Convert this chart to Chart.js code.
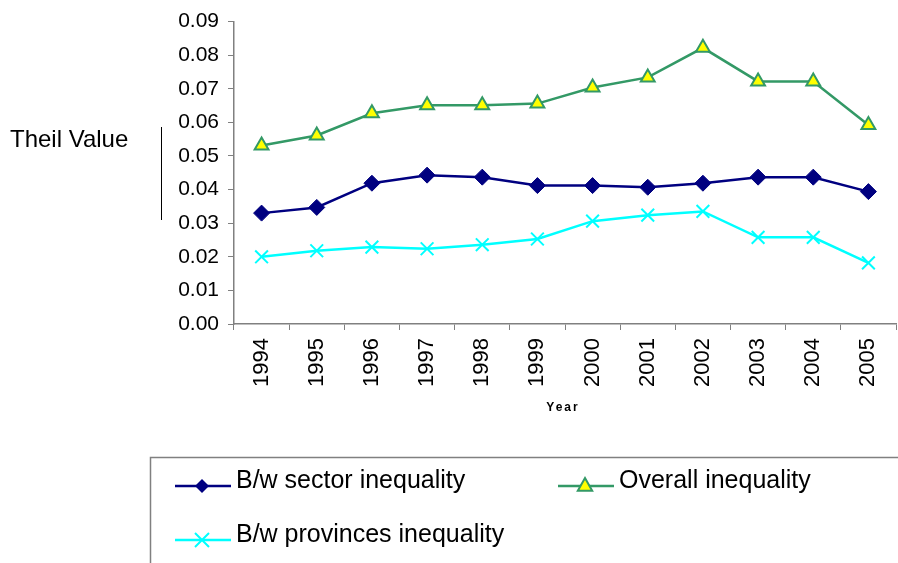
<!DOCTYPE html>
<html>
<head>
<meta charset="utf-8">
<script src="https://cdn.jsdelivr.net/npm/chart.js"></script>
<style>
  body { margin: 0; background: #fff; }
  canvas { display: block; }
</style>
</head>
<body>
<canvas id="myChart" width="898" height="563"></canvas>
<script>
// data block
const years = ['1994', '1995', '1996', '1997', '1998', '1999', '2000', '2001', '2002', '2003', '2004', '2005'];
const sectorInequality = [0.0330, 0.0347, 0.0419, 0.0443, 0.0437, 0.0412, 0.0412, 0.0407, 0.0419, 0.0437, 0.0437, 0.0394];
const overallInequality = [0.0531, 0.0561, 0.0627, 0.0651, 0.0651, 0.0656, 0.0704, 0.0734, 0.0822, 0.0722, 0.0722, 0.0592];
const provincesInequality = [0.0200, 0.0218, 0.0229, 0.0224, 0.0236, 0.0253, 0.0306, 0.0324, 0.0335, 0.0258, 0.0258, 0.0182];
const seriesNames = ['B/w sector inequality', 'Overall inequality', 'B/w provinces inequality'];

const FONT = '"Liberation Sans", Arial, sans-serif';
const NAVY = '#000080';
const GREEN = '#339966';
const CYAN = '#00FFFF';

// markers for the hand-drawn legend
const drawDiamond = (ctx, x, y, r, color) => {
    ctx.beginPath();
    ctx.moveTo(x, y - r);
    ctx.lineTo(x + r, y);
    ctx.lineTo(x, y + r);
    ctx.lineTo(x - r, y);
    ctx.closePath();
    ctx.fillStyle = color;
    ctx.fill();
};

const drawTriangle = (ctx, x, y, r) => {
    ctx.beginPath();
    ctx.moveTo(x, y - r);
    ctx.lineTo(x + r * 0.9, y + r * 0.6);
    ctx.lineTo(x - r * 0.9, y + r * 0.6);
    ctx.closePath();
    ctx.fillStyle = '#FFFF00';
    ctx.fill();
    ctx.lineWidth = 2;
    ctx.strokeStyle = GREEN;
    ctx.stroke();
};

const drawCross = (ctx, x, y, r) => {
    ctx.beginPath();
    ctx.moveTo(x - r, y - r);
    ctx.lineTo(x + r, y + r);
    ctx.moveTo(x + r, y - r);
    ctx.lineTo(x - r, y + r);
    ctx.lineWidth = 2;
    ctx.strokeStyle = CYAN;
    ctx.stroke();
};

// extras block: axis title, "Year", legend box
const extras = {
    id: 'extras',
    afterDraw(chart) {
        const { ctx } = chart;
        ctx.save();

        // y axis title and its bar
        ctx.fillStyle = '#000';
        ctx.font = '24px ' + FONT;
        ctx.textAlign = 'left';
        ctx.textBaseline = 'middle';
        ctx.fillText('Theil Value', 10, 140);
        ctx.strokeStyle = '#000';
        ctx.lineWidth = 1;
        ctx.beginPath();
        ctx.moveTo(161.5, 127);
        ctx.lineTo(161.5, 220);
        ctx.stroke();

        // x axis title
        ctx.font = 'bold 12px ' + FONT;
        ctx.textAlign = 'center';
        if ('letterSpacing' in ctx) ctx.letterSpacing = '2px';
        ctx.fillText('Year', 563, 408);
        if ('letterSpacing' in ctx) ctx.letterSpacing = '0px';

        // legend box (open on the right and bottom like the source crop)
        ctx.strokeStyle = '#808080';
        ctx.lineWidth = 1.5;
        ctx.beginPath();
        ctx.moveTo(150.5, 563);
        ctx.lineTo(150.5, 457.5);
        ctx.lineTo(898, 457.5);
        ctx.stroke();

        const rows = [
            { x: 175, y: 486, color: NAVY, name: seriesNames[0], mark: (mx, my) => drawDiamond(ctx, mx, my, 7, NAVY) },
            { x: 558, y: 486, color: GREEN, name: seriesNames[1], mark: (mx, my) => drawTriangle(ctx, mx, my, 8) },
            { x: 175, y: 540, color: CYAN, name: seriesNames[2], mark: (mx, my) => drawCross(ctx, mx, my, 7) }
        ];
        rows.forEach(r => {
            ctx.strokeStyle = r.color;
            ctx.lineWidth = 2.5;
            ctx.beginPath();
            ctx.moveTo(r.x, r.y);
            ctx.lineTo(r.x + 56, r.y);
            ctx.stroke();
            r.mark(r.x + 27, r.y);
            ctx.fillStyle = '#000';
            ctx.font = '25px ' + FONT;
            ctx.textAlign = 'left';
            ctx.textBaseline = 'middle';
            ctx.fillText(r.name, r.x + 61, r.y - 5);
        });

        ctx.restore();
    }
};

// config block
const config = {
    type: 'line',
    data: {
        labels: years,
        datasets: [
            {
                label: seriesNames[0],
                data: sectorInequality,
                borderColor: NAVY,
                backgroundColor: NAVY,
                borderWidth: 2.5,
                pointStyle: 'rectRot',
                pointRadius: 8,
                pointBorderWidth: 1,
                tension: 0
            },
            {
                label: seriesNames[1],
                data: overallInequality,
                borderColor: GREEN,
                backgroundColor: '#FFFF00',
                borderWidth: 2.5,
                pointStyle: 'triangle',
                pointRadius: 8,
                pointBorderWidth: 2,
                tension: 0
            },
            {
                label: seriesNames[2],
                data: provincesInequality,
                borderColor: CYAN,
                backgroundColor: CYAN,
                borderWidth: 2.5,
                pointStyle: 'crossRot',
                pointRadius: 9,
                pointBorderWidth: 2,
                tension: 0
            }
        ]
    },
    options: {
        responsive: false,
        animation: false,
        layout: { autoPadding: false, padding: { left: 0, right: 2, top: 20, bottom: 0 } },
        scales: {
            x: {
                offset: true,
                grid: { offset: true, drawOnChartArea: false, drawTicks: true, tickLength: 6, color: '#808080' },
                border: { color: '#808080', width: 1.5 },
                ticks: {
                    color: '#000',
                    font: { family: FONT, size: 22 },
                    minRotation: 90,
                    maxRotation: 90,
                    padding: 8,
                    autoSkip: false
                },
                afterFit(scale) {
                    scale.height = 239;
                    scale.paddingLeft = 0;
                    scale.paddingRight = 0;
                }
            },
            y: {
                min: 0,
                max: 0.09,
                grid: { drawOnChartArea: false, drawTicks: true, tickLength: 6, color: '#808080' },
                border: { color: '#808080', width: 1.5 },
                ticks: {
                    stepSize: 0.01,
                    color: '#000',
                    font: { family: FONT, size: 21 },
                    padding: 9,
                    callback: v => v.toFixed(2)
                },
                afterFit(scale) { scale.width = 234; }
            }
        },
        plugins: {
            legend: { display: false },
            tooltip: { enabled: false }
        }
    },
    plugins: [extras]
};

// init render block
const ctx = document.getElementById('myChart');
const myChart = new Chart(ctx, config);
</script>
</body>
</html>
